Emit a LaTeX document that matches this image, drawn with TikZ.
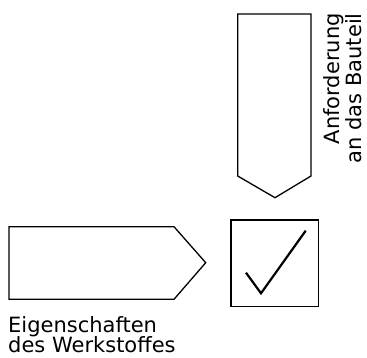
\documentclass[tikz,border=0pt]{standalone}
\usepackage{fontspec}
\setmainfont{DejaVu Sans}
\usetikzlibrary{positioning}

\tikzset{
  outline/.style={draw, line width=1.3pt, line join=miter},
  labeltext/.style={inner sep=0pt, font=\fontsize{21}{20.4}\selectfont},
}

\begin{document}
\begin{tikzpicture}[x=1pt,y=-1pt]
    \useasboundingbox (0,0) rectangle (367,358);

    % Anforderung: arrow pointing down
    \draw[outline] (237.7,14) -- (311,14) -- (311,176) -- (275,197.7) -- (237.7,176) -- cycle;
    \node[labeltext, rotate=90, anchor=north east, align=right,
          font=\fontsize{21}{22}\selectfont] (demand) at (323.7,13) {Anforderung\\an das Bauteil};

    % Werkstoff: arrow pointing right
    \draw[outline] (9,226.7) -- (174,226.7) -- (205.7,262.7) -- (174,299.3) -- (9,299.3) -- cycle;
    \node[labeltext, anchor=north west, align=left] (material) at (8,316) {Eigenschaften\\des Werkstoffes};

    % Result box with check mark
    \node[outline, line width=1.6pt, minimum width=87.5pt, minimum height=86.5pt, inner sep=0pt] (check) at (274.7,263.3) {};
    \draw[line width=2.2pt, line join=miter] ([shift={(-28.7,9.4)}]check.center)
        -- ([shift={(-13.7,30)}]check.center) -- ([shift={(31,-32.6)}]check.center);
\end{tikzpicture}
\end{document}
